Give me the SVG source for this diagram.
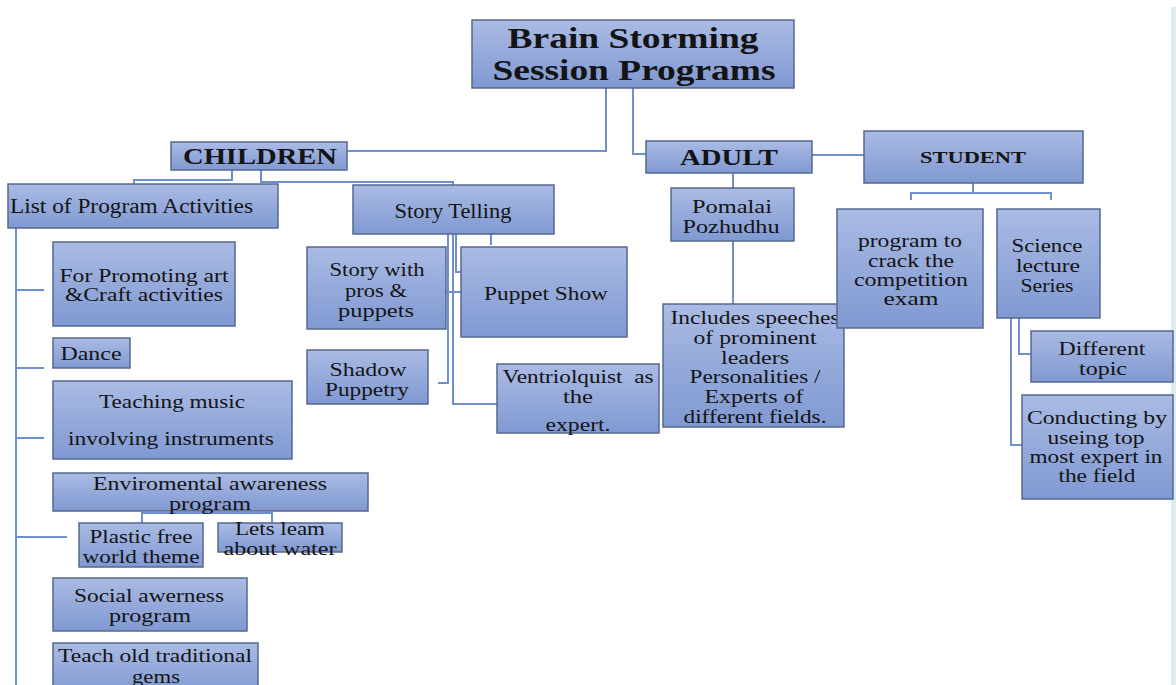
<svg xmlns="http://www.w3.org/2000/svg" width="1176" height="685" viewBox="0 0 1176 685">
<defs>
<linearGradient id="g" x1="0" y1="0" x2="0" y2="1">
<stop offset="0" stop-color="#aabbe4"/>
<stop offset="1" stop-color="#8099d2"/>
</linearGradient>
<style>
.b{fill:url(#g);stroke:#56688f;stroke-width:1.5}
.t{font-family:"Liberation Serif","Times New Roman",serif;font-size:19px;fill:#141414;text-anchor:middle;dominant-baseline:central}
.s{font-size:18px}
.h{font-weight:bold}
.c{fill:none;stroke:#6f8fcd;stroke-width:2}
</style>
</defs>
<rect width="1176" height="685" fill="#ffffff"/>
<rect x="1171" y="7" width="5" height="678" fill="#dcecef"/>

<g id="connectors" class="c">
<path d="M606,88 V151 H347"/>
<path d="M633,88 V154 H646"/>
<path d="M812,155 H864"/>
<path d="M232,170 V180 H134 V184"/>
<path d="M261,170 V182 H453 V185"/>
<path d="M16,228 V685"/>
<path d="M16,290 H44 M16,368 H44 M16,438 H44 M16,537 H67"/>
<path d="M142,523 V513 H272 V523 M205,511 V513"/>
<path d="M448,234 V383 H438"/>
<path d="M453,234 V404 H497"/>
<path d="M456,234 V272 H461"/>
<path d="M491,234 V245"/>
<path d="M446,292 H461"/>
<path d="M733,173 V188"/>
<path d="M733,241 V304"/>
<path d="M973,183 V193 M911,200 V193 H1051 V200"/>
<path d="M1019,318 V354 H1031"/>
<path d="M1011,318 V445 H1022"/>
</g>

<g id="title">
<rect class="b" x="472" y="20" width="322" height="68"/>
<text class="t h" x="633" y="38" style="font-size:29px" textLength="251" lengthAdjust="spacingAndGlyphs">Brain Storming</text>
<text class="t h" x="634" y="70" style="font-size:29px" textLength="283" lengthAdjust="spacingAndGlyphs">Session Programs</text>
</g>

<g id="children">
<rect class="b" x="171" y="142" width="176" height="28"/>
<text class="t h" x="260" y="156" style="font-size:23px" textLength="154" lengthAdjust="spacingAndGlyphs">CHILDREN</text>
</g>

<g id="adult">
<rect class="b" x="646" y="141" width="166" height="32"/>
<text class="t h" x="729" y="157" style="font-size:24px" textLength="98" lengthAdjust="spacingAndGlyphs">ADULT</text>
</g>

<g id="student">
<rect class="b" x="864" y="131" width="219" height="52"/>
<text class="t h" x="973" y="157" style="font-size:17px" textLength="106" lengthAdjust="spacingAndGlyphs">STUDENT</text>
</g>

<g id="list">
<rect class="b" x="8" y="184" width="270" height="44"/>
<text class="t" x="10" y="206" style="text-anchor:start;font-size:20px" textLength="243" lengthAdjust="spacingAndGlyphs">List of Program Activities</text>
</g>

<g id="story">
<rect class="b" x="353" y="185" width="201" height="49"/>
<text class="t" x="453" y="211" style="font-size:20px" textLength="117" lengthAdjust="spacingAndGlyphs">Story Telling</text>
</g>

<g id="promoting">
<rect class="b" x="53" y="242" width="182" height="84"/>
<text class="t" x="144" y="275" textLength="169" lengthAdjust="spacingAndGlyphs">For Promoting art</text>
<text class="t" x="144" y="294" textLength="158" lengthAdjust="spacingAndGlyphs">&amp;Craft activities</text>
</g>

<g id="dance">
<rect class="b" x="53" y="338" width="77" height="30"/>
<text class="t" x="91" y="353" textLength="61" lengthAdjust="spacingAndGlyphs">Dance</text>
</g>

<g id="music">
<rect class="b" x="53" y="381" width="239" height="78"/>
<text class="t" x="172" y="401" textLength="146" lengthAdjust="spacingAndGlyphs">Teaching music</text>
<text class="t" x="171" y="438" textLength="206" lengthAdjust="spacingAndGlyphs">involving instruments</text>
</g>

<g id="environment">
<rect class="b" x="53" y="473" width="315" height="38"/>
<text class="t" x="210" y="483" textLength="234" lengthAdjust="spacingAndGlyphs">Enviromental awareness</text>
<text class="t" x="210" y="503" textLength="82" lengthAdjust="spacingAndGlyphs">program</text>
</g>

<g id="plastic">
<rect class="b" x="79" y="523" width="124" height="44"/>
<text class="t" x="141" y="536" textLength="103" lengthAdjust="spacingAndGlyphs">Plastic free</text>
<text class="t" x="141" y="556" textLength="117" lengthAdjust="spacingAndGlyphs">world theme</text>
</g>

<g id="water">
<rect class="b" x="218" y="523" width="124" height="29"/>
<text class="t" x="280" y="528" textLength="90" lengthAdjust="spacingAndGlyphs">Lets leam</text>
<text class="t" x="280" y="548" textLength="113" lengthAdjust="spacingAndGlyphs">about water</text>
</g>

<g id="social">
<rect class="b" x="53" y="578" width="194" height="53"/>
<text class="t" x="149" y="595" textLength="150" lengthAdjust="spacingAndGlyphs">Social awerness</text>
<text class="t" x="150" y="615" textLength="82" lengthAdjust="spacingAndGlyphs">program</text>
</g>

<g id="traditional">
<rect class="b" x="53" y="643" width="205" height="50"/>
<text class="t s" x="155" y="656" textLength="194" lengthAdjust="spacingAndGlyphs">Teach old traditional</text>
<text class="t s" x="156" y="677" textLength="48" lengthAdjust="spacingAndGlyphs">gems</text>
</g>

<g id="props">
<rect class="b" x="307" y="247" width="139" height="82"/>
<text class="t" x="377" y="269" textLength="95" lengthAdjust="spacingAndGlyphs">Story with</text>
<text class="t" x="376" y="290" textLength="62" lengthAdjust="spacingAndGlyphs">pros &amp;</text>
<text class="t" x="376" y="310" textLength="76" lengthAdjust="spacingAndGlyphs">puppets</text>
</g>

<g id="puppet-show">
<rect class="b" x="461" y="247" width="166" height="90"/>
<text class="t" x="546" y="293" textLength="124" lengthAdjust="spacingAndGlyphs">Puppet Show</text>
</g>

<g id="shadow">
<rect class="b" x="307" y="350" width="121" height="54"/>
<text class="t" x="368" y="369" textLength="77" lengthAdjust="spacingAndGlyphs">Shadow</text>
<text class="t" x="367" y="389" textLength="84" lengthAdjust="spacingAndGlyphs">Puppetry</text>
</g>

<g id="ventriloquist">
<rect class="b" x="497" y="364" width="162" height="69"/>
<text class="t" x="578" y="376" textLength="151" lengthAdjust="spacingAndGlyphs" xml:space="preserve">Ventriolquist  as</text>
<text class="t" x="578" y="396" textLength="30" lengthAdjust="spacingAndGlyphs">the</text>
<text class="t" x="578" y="424" textLength="65" lengthAdjust="spacingAndGlyphs">expert.</text>
</g>

<g id="pomalai">
<rect class="b" x="671" y="188" width="123" height="53"/>
<text class="t" x="732" y="206" textLength="80" lengthAdjust="spacingAndGlyphs">Pomalai</text>
<text class="t" x="731" y="226" textLength="97" lengthAdjust="spacingAndGlyphs">Pozhudhu</text>
</g>

<g id="speeches">
<rect class="b" x="663" y="304" width="181" height="123"/>
<text class="t s" x="755" y="318" textLength="169" lengthAdjust="spacingAndGlyphs">Includes speeches</text>
<text class="t s" x="755" y="338" textLength="123" lengthAdjust="spacingAndGlyphs">of prominent</text>
<text class="t s" x="755" y="358" textLength="68" lengthAdjust="spacingAndGlyphs">leaders</text>
<text class="t s" x="755" y="377" textLength="131" lengthAdjust="spacingAndGlyphs">Personalities /</text>
<text class="t s" x="754" y="397" textLength="99" lengthAdjust="spacingAndGlyphs">Experts of</text>
<text class="t s" x="755" y="417" textLength="143" lengthAdjust="spacingAndGlyphs">different fields.</text>
</g>

<g id="competition">
<rect class="b" x="837" y="209" width="146" height="119"/>
<text class="t s" x="910" y="241" textLength="104" lengthAdjust="spacingAndGlyphs">program to</text>
<text class="t s" x="911" y="261" textLength="86" lengthAdjust="spacingAndGlyphs">crack the</text>
<text class="t s" x="911" y="280" textLength="114" lengthAdjust="spacingAndGlyphs">competition</text>
<text class="t s" x="911" y="299" textLength="55" lengthAdjust="spacingAndGlyphs">exam</text>
</g>

<g id="science">
<rect class="b" x="997" y="209" width="103" height="109"/>
<text class="t" x="1047" y="245" textLength="71" lengthAdjust="spacingAndGlyphs">Science</text>
<text class="t" x="1048" y="265" textLength="64" lengthAdjust="spacingAndGlyphs">lecture</text>
<text class="t" x="1047" y="285" textLength="53" lengthAdjust="spacingAndGlyphs">Series</text>
</g>

<g id="different-topic">
<rect class="b" x="1031" y="331" width="142" height="51"/>
<text class="t" x="1102" y="348" textLength="87" lengthAdjust="spacingAndGlyphs">Different</text>
<text class="t" x="1103" y="368" textLength="48" lengthAdjust="spacingAndGlyphs">topic</text>
</g>

<g id="conducting">
<rect class="b" x="1022" y="395" width="151" height="104"/>
<text class="t s" x="1097" y="418" textLength="140" lengthAdjust="spacingAndGlyphs">Conducting by</text>
<text class="t s" x="1096" y="438" textLength="97" lengthAdjust="spacingAndGlyphs">useing top</text>
<text class="t s" x="1096" y="457" textLength="133" lengthAdjust="spacingAndGlyphs">most expert in</text>
<text class="t s" x="1097" y="476" textLength="77" lengthAdjust="spacingAndGlyphs">the field</text>
</g>
</svg>
